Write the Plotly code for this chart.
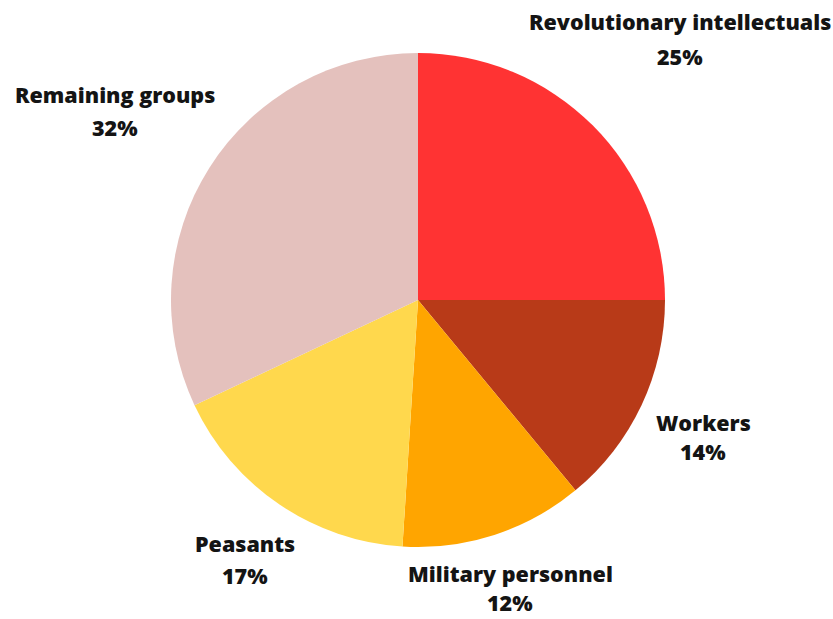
import plotly.graph_objects as go

categories = ["Revolutionary intellectuals", "Workers", "Military personnel", "Peasants", "Remaining groups"]
shares = [25, 14, 12, 17, 32]
colors = ["#FF3333", "#B83A18", "#FFA500", "#FFD84D", "#E4C1BD"]

# label anchor positions in pixels (x, y of name line, y of percent line)
label_pos = [(680, 22, 56), (703, 422, 451), (510, 573, 602), (245, 543, 575), (115, 95, 128)]

W, H = 833, 619
cx, cy, r = 418, 300, 247

fig = go.Figure(go.Pie(
    labels=categories,
    values=shares,
    marker=dict(colors=colors, line=dict(width=0)),
    sort=False,
    direction="clockwise",
    rotation=0,
    textinfo="none",
    hoverinfo="label+percent",
    showlegend=False,
    domain=dict(x=[(cx - r) / W, (cx + r) / W], y=[(H - cy - r) / H, (H - cy + r) / H]),
))

font = dict(family="Open Sans", size=21.5, color="#141414", weight=800)
anns = []
for name, val, (x, y1, y2) in zip(categories, shares, label_pos):
    anns.append(dict(x=x / W, y=1 - y1 / H, xref="paper", yref="paper", text=name,
                     showarrow=False, font=font, xanchor="center", yanchor="middle"))
    anns.append(dict(x=x / W, y=1 - y2 / H, xref="paper", yref="paper", text=f"{val}%",
                     showarrow=False, font=font, xanchor="center", yanchor="middle"))

fig.update_layout(
    width=W, height=H,
    margin=dict(l=0, r=0, t=0, b=0),
    paper_bgcolor="white",
    plot_bgcolor="white",
    annotations=anns,
)

fig.write_html("out.html")
